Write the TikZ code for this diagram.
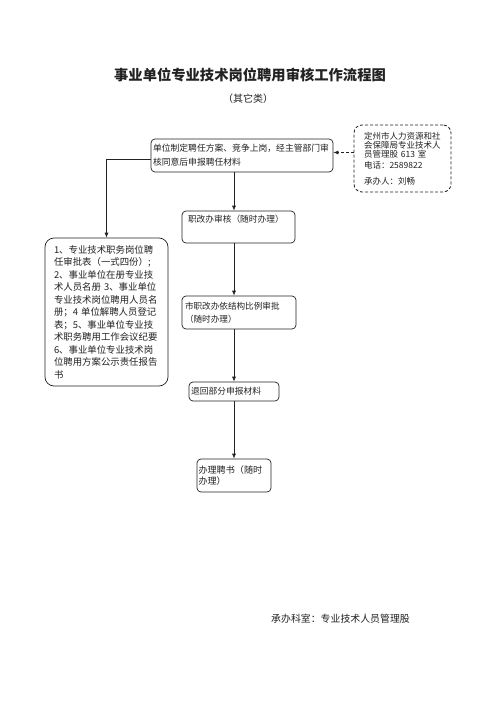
\documentclass[tikz,border=0pt]{standalone}
\usepackage{fontspec}
\setmainfont{Noto Sans CJK SC}
\usetikzlibrary{arrows.meta,calc}
\definecolor{ink}{HTML}{222222}
\tikzset{
  box/.style={draw=ink, line width=0.7pt, rounded corners=4pt, align=left, inner ysep=0pt, text=ink},
  dbox/.style={draw=ink, line width=0.8pt, dash pattern=on 3pt off 2pt, rounded corners=8pt, align=left, inner ysep=0pt, text=ink},
  arr/.style={draw=ink, line width=0.7pt, -{Latex[length=5pt,width=4pt]}},
  darr/.style={arr, dash pattern=on 3pt off 2pt},
  txt/.style={text=ink, inner sep=0pt}
}
\begin{document}
\begin{tikzpicture}[x=1pt,y=-1pt]
\useasboundingbox (0,0) rectangle (500,707);
\fill[white] (0,0) rectangle (500,707);

\node[txt, font=\fontsize{14.3}{16}\selectfont\bfseries] (title) at (250,75) {事业单位专业技术岗位聘用审核工作流程图};
\node[txt, font=\fontsize{10}{12}\selectfont] (sub) at (248,98.5) {（其它类）};

\node[box, minimum height=33pt, text width=178pt, inner xsep=2pt, font=\fontsize{8.8}{14}\selectfont] (b1) at (242,155.5)
  {单位制定聘任方案、竞争上岗，经主管部门审\\核同意后申报聘任材料};

\node[dbox, minimum height=67pt, text width=77pt, inner xsep=10pt, font=\fontsize{8.5}{9}\selectfont] (db) at (402.5,158.5)
  {定州市人力资源和社\\会保障局专业技术人\\员管理股 613 室\\[2pt]电话：2589822\\[6.5pt]承办人：刘畅};

\node[box, rounded corners=9pt, minimum height=148pt, text width=105pt, inner xsep=9pt, font=\fontsize{9.4}{12.5}\selectfont] (lb) at (106.5,312)
  {1、专业技术职务岗位聘\\任审批表（一式四份）;\\2、事业单位在册专业技\\术人员名册 3、事业单位\\专业技术岗位聘用人员名\\册；4 单位解聘人员登记\\表；5、事业单位专业技\\术职务聘用工作会议纪要\\6、事业单位专业技术岗\\位聘用方案公示责任报告\\书};

\node[box, minimum height=32pt, text width=101pt, inner xsep=6pt, font=\fontsize{8.7}{12}\selectfont] (b2) at (238.5,227)
  {职改办审核（随时办理）\\[4pt]\mbox{}};

\node[box, minimum height=33pt, text width=108pt, inner xsep=3pt, font=\fontsize{8.6}{12.6}\selectfont] (b3) at (239,312.5)
  {市职改办依结构比例审批\\（随时办理）};

\node[box, minimum height=19pt, text width=86pt, inner xsep=2pt, font=\fontsize{8.75}{12}\selectfont] (b4) at (234,391.5)
  {退回部分申报材料};

\node[box, minimum height=33pt, text width=71pt, inner xsep=1.5pt, font=\fontsize{9.1}{11.6}\selectfont] (b5) at (234,475.5)
  {办理聘书（随时\\办理）};

\node[txt, font=\fontsize{9.9}{12}\selectfont] (foot) at (340.5,619) {承办科室：专业技术人员管理股};

\coordinate (ax) at (234,0);
\draw[arr] (b1.south -| ax) -- (b2.north -| ax);
\draw[arr] (b2.south -| ax) -- (b3.north -| ax);
\draw[arr] (b3.south -| ax) -- (b4.north -| ax);
\draw[arr] (b4.south -| ax) -- (b5.north -| ax);
\draw[arr] ([yshift=-3.5pt]b1.west) -| (lb.north);
\coordinate (c1) at ([yshift=3pt]b1.east);
\draw[darr] (db.west |- c1) -- (c1);
\end{tikzpicture}
\end{document}
